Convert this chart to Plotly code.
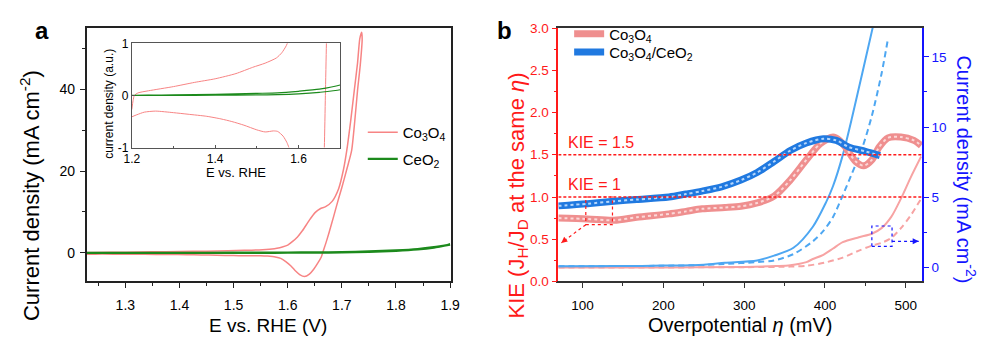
import plotly.graph_objects as go

FONT = "Liberation Sans, Arial, sans-serif"
W, H = 985, 344

# ---------------- panel a: cyclic voltammograms ----------------
# potential E vs. RHE (V) and current density (mA cm^-2)
co3o4_anodic_e = [1.200, 1.203, 1.206, 1.215, 1.240, 1.300, 1.350, 1.400, 1.450, 1.490,
                  1.520, 1.547, 1.560, 1.571, 1.580, 1.590, 1.600, 1.609, 1.618, 1.627,
                  1.640, 1.651, 1.660, 1.670, 1.682, 1.694, 1.703, 1.709, 1.716, 1.723,
                  1.729, 1.733, 1.7365]
co3o4_anodic_j = [-0.27, -0.10, 0.00, 0.05, 0.09, 0.17, 0.25, 0.32, 0.42, 0.54,
                  0.62, 0.72, 0.82, 0.96, 1.15, 1.45, 1.90, 2.80, 3.90, 5.40,
                  8.00, 9.90, 10.8, 11.3, 12.6, 15.7, 20.4, 25.0, 32.0, 39.8,
                  46.5, 52.3, 54.0]
co3o4_cathodic_e = [1.7375, 1.734, 1.729, 1.724, 1.718, 1.709, 1.700, 1.694, 1.685, 1.676,
                    1.670, 1.667, 1.6645, 1.662, 1.656, 1.648, 1.640, 1.631, 1.622, 1.615,
                    1.606, 1.597, 1.587, 1.577, 1.572, 1.563, 1.550, 1.540, 1.520, 1.500,
                    1.469, 1.440, 1.414, 1.380, 1.335, 1.300, 1.257, 1.230, 1.212, 1.200]
co3o4_cathodic_j = [52.3, 46.0, 39.8, 32.5, 25.0, 20.4, 16.0, 13.3, 9.0, 4.8,
                    2.2, 1.0, 0.0, -1.0, -2.4, -4.0, -5.2, -5.8, -5.3, -4.5,
                    -3.2, -2.2, -1.35, -1.0, -0.90, -0.78, -0.69, -0.68, -0.70, -0.66,
                    -0.57, -0.50, -0.45, -0.40, -0.36, -0.33, -0.30, -0.32, -0.37, -0.41]

ceo2_anodic_e = [1.200, 1.300, 1.400, 1.500, 1.550, 1.600, 1.650, 1.700, 1.750, 1.800,
                 1.840, 1.870, 1.900]
ceo2_anodic_j = [0.00, 0.00, 0.005, 0.01, 0.015, 0.03, 0.06, 0.11, 0.25, 0.50,
                 0.85, 1.30, 2.00]
ceo2_cathodic_e = [1.900, 1.870, 1.840, 1.800, 1.750, 1.700, 1.650, 1.600, 1.550, 1.500,
                   1.400, 1.300, 1.240, 1.200]
ceo2_cathodic_j = [2.00, 1.40, 0.95, 0.62, 0.36, 0.20, 0.12, 0.08, 0.05, 0.04,
                   0.02, 0.01, 0.005, 0.00]

# ---------------- panel b: KIE and polarisation curves ----------------
# overpotential (mV)
kie_co3o4_eta = [70, 106, 139, 167, 207, 228, 248, 276, 296, 316, 337, 357, 377, 394,
                 410, 418, 426, 438, 448, 458, 467, 478, 494, 510, 519]
kie_co3o4 = [0.75, 0.74, 0.725, 0.76, 0.80, 0.83, 0.86, 0.875, 0.89, 0.93, 1.01, 1.20, 1.44, 1.63,
             1.71, 1.67, 1.58, 1.42, 1.37, 1.44, 1.59, 1.70, 1.71, 1.67, 1.61]
kie_cc_eta = [70, 106, 139, 167, 207, 228, 248, 272, 296, 316, 337, 357, 377, 398,
              414, 430, 450, 468]
kie_cc = [0.895, 0.92, 0.95, 0.97, 1.00, 1.035, 1.07, 1.12, 1.20, 1.29, 1.42, 1.55, 1.64, 1.69,
          1.67, 1.59, 1.54, 1.49]

# current density (mA cm^-2), H2O (solid) and D2O (dashed)
j_cc_h2o_eta = [70, 150, 200, 250, 276, 316, 337, 361, 385, 401, 410, 422, 434, 446, 459]
j_cc_h2o = [0.08, 0.10, 0.13, 0.20, 0.33, 0.50, 0.84, 1.40, 2.90, 4.60, 5.80, 8.00, 10.8, 13.8, 17.06]
j_cc_d2o_eta = [70, 150, 200, 250, 276, 316, 337, 361, 385, 398, 410, 421, 432, 446, 458, 470, 478]
j_cc_d2o = [0.08, 0.10, 0.12, 0.18, 0.25, 0.38, 0.50, 0.95, 1.86, 2.60, 3.60, 5.00, 6.50, 8.50,
            10.8, 13.8, 16.3]
j_co_h2o_eta = [70, 200, 300, 340, 357, 377, 385, 398, 410, 422, 442, 458, 470, 482, 494, 506, 519]
j_co_h2o = [0.00, 0.00, 0.03, 0.10, 0.16, 0.38, 0.60, 0.90, 1.35, 1.80, 2.15, 2.40, 2.80, 3.60,
            4.90, 6.40, 7.90]
j_co_d2o_eta = [70, 200, 300, 357, 377, 400, 422, 442, 458, 470, 482, 494, 506, 519]
j_co_d2o = [0.00, 0.00, 0.02, 0.06, 0.12, 0.35, 0.70, 1.20, 1.55, 1.75, 2.10, 2.80, 3.70, 4.90]

kie_levels = [1.0, 1.5]
kie_level_labels = ["KIE = 1", "KIE = 1.5"]

# zoom boxes (eta range, value range) and their arrow targets
red_box = [104, 137, 0.672, 1.0]
red_arrow = [104, 0.672, 73.6, 0.457]
blue_box = [458, 483, 1.5, 2.95]
blue_arrow = [483, 1.86, 516, 1.86]

PINK_A = "#f78484"
GREEN = "#1c8a1c"
PINK_B = "#ef8f8f"
PINK_B_IN = "#fbd8d8"
BLUE_B = "#2079e0"
BLUE_B_IN = "#b5d6fb"
PINK_J = "#f7a3a3"
BLUE_J = "#4ea7f2"
RED = "#ff1a1a"
BLUE_AX = "#1414ff"


def fx(p):
    return p / W


def fy(p):
    return 1 - p / H


fig = go.Figure()

co_e = co3o4_anodic_e + co3o4_cathodic_e
co_j = co3o4_anodic_j + co3o4_cathodic_j
ce_e = ceo2_anodic_e + ceo2_cathodic_e
ce_j = ceo2_anodic_j + ceo2_cathodic_j

# main CV panel
fig.add_trace(go.Scatter(x=co_e, y=co_j, xaxis="x", yaxis="y", mode="lines",
                         line=dict(color=PINK_A, width=1.5, shape="spline", smoothing=0.6),
                         name="Co<sub>3</sub>O<sub>4</sub>", legend="legend", legendgroup="a1"))
fig.add_trace(go.Scatter(x=ce_e, y=ce_j, xaxis="x", yaxis="y", mode="lines",
                         line=dict(color=GREEN, width=2.2, shape="spline", smoothing=0.6),
                         name="CeO<sub>2</sub>", legend="legend", legendgroup="a2"))
# inset (same sweeps, magnified)
fig.add_trace(go.Scatter(x=co_e, y=co_j, xaxis="x2", yaxis="y2", mode="lines",
                         line=dict(color=PINK_A, width=1, shape="spline", smoothing=0.6),
                         showlegend=False))
fig.add_trace(go.Scatter(x=ce_e, y=ce_j, xaxis="x2", yaxis="y2", mode="lines",
                         line=dict(color=GREEN, width=1.2, shape="spline", smoothing=0.6),
                         showlegend=False))

# polarisation curves (right axis)
for xs, ys, col, dash in [(j_co_h2o_eta, j_co_h2o, PINK_J, "solid"),
                          (j_co_d2o_eta, j_co_d2o, PINK_J, "6px,4px"),
                          (j_cc_h2o_eta, j_cc_h2o, BLUE_J, "solid"),
                          (j_cc_d2o_eta, j_cc_d2o, BLUE_J, "6px,4px")]:
    fig.add_trace(go.Scatter(x=xs, y=ys, xaxis="x3", yaxis="y4", mode="lines",
                             line=dict(color=col, width=2, dash=dash, shape="spline", smoothing=0.8),
                             showlegend=False))

# KIE curves (left axis); each sample gets its own one-row legend
for xs, ys, col, col_in, nm, lg in [
        (kie_co3o4_eta, kie_co3o4, PINK_B, PINK_B_IN, "Co<sub>3</sub>O<sub>4</sub>", "legend2"),
        (kie_cc_eta, kie_cc, BLUE_B, BLUE_B_IN, "Co<sub>3</sub>O<sub>4</sub>/CeO<sub>2</sub>", "legend3")]:
    fig.add_trace(go.Scatter(x=xs, y=ys, xaxis="x3", yaxis="y3", mode="lines",
                             line=dict(color=col, width=7, shape="spline", smoothing=0.8),
                             name=nm, legend=lg))
    fig.add_trace(go.Scatter(x=xs, y=ys, xaxis="x3", yaxis="y3", mode="lines",
                             line=dict(color=col_in, width=2, dash="dot", shape="spline", smoothing=0.8),
                             showlegend=False))

shapes = []
for lv in kie_levels:
    shapes.append(dict(type="line", xref="x3", yref="y3", x0=70, x1=520, y0=lv, y1=lv,
                       line=dict(color=RED, width=1.5, dash="3px,2px")))
shapes.append(dict(type="rect", xref="x3", yref="y3", x0=red_box[0], x1=red_box[1],
                   y0=red_box[2], y1=red_box[3], line=dict(color=RED, width=1.2, dash="dot")))
shapes.append(dict(type="line", xref="x3", yref="y3", x0=red_arrow[0], y0=red_arrow[1],
                   x1=red_arrow[2], y1=red_arrow[3], line=dict(color=RED, width=1.2, dash="dot")))
shapes.append(dict(type="rect", xref="x3", yref="y4", x0=blue_box[0], x1=blue_box[1],
                   y0=blue_box[2], y1=blue_box[3], line=dict(color=BLUE_AX, width=1.2, dash="dot")))
shapes.append(dict(type="line", xref="x3", yref="y4", x0=blue_arrow[0], y0=blue_arrow[1],
                   x1=blue_arrow[2], y1=blue_arrow[3], line=dict(color=BLUE_AX, width=1.2, dash="dot")))

ann = []
for lv, txt in zip(kie_levels, kie_level_labels):
    ann.append(dict(x=80, y=lv + 0.15, xref="x3", yref="y3", text=txt, showarrow=False,
                    xanchor="left", yanchor="middle", font=dict(color=RED, size=16)))
# arrow heads
ann.append(dict(x=red_arrow[2], y=red_arrow[3], xref="x3", yref="y3", text="", showarrow=True,
                arrowhead=2, arrowsize=1, arrowwidth=1.2, arrowcolor=RED, ax=6, ay=-4.6, standoff=0))
ann.append(dict(x=blue_arrow[2], y=blue_arrow[3], xref="x3", yref="y4", text="", showarrow=True,
                arrowhead=2, arrowsize=1, arrowwidth=1.2, arrowcolor=BLUE_AX, ax=-7, ay=0, standoff=0))


def label(px, py, text, size, color="black", angle=0, bold=False):
    ann.append(dict(x=fx(px), y=fy(py), xref="paper", yref="paper", textangle=angle,
                    showarrow=False, xanchor="center", yanchor="middle",
                    text=f"<b>{text}</b>" if bold else text, font=dict(size=size, color=color)))


# panel letters
label(35, 25, "a", 24, bold=True)
label(505, 25, "b", 24, bold=True)
# axis titles
label(23, 197, "Current density (mA cm<sup>-2</sup>)", 22, angle=-90)
label(265, 333, "E vs. RHE (V)", 19)
label(102, 101, "current density (a.u.)", 12, angle=-90)
label(232, 173, "E vs. RHE", 13)
label(519, 197, "KIE (J<sub>H</sub>/J<sub>D</sub> at the same <i>η</i>)", 22, color=RED, angle=-90)
label(975, 170, "Current density (mA cm<sup>-2</sup>)", 20, color=BLUE_AX, angle=90)
label(745, 333, "Overpotential <i>η</i> (mV)", 20)

frame = dict(showline=True, linewidth=1.5, linecolor="#222", mirror=True, showgrid=False,
             zeroline=False, ticks="outside", ticklen=5, tickwidth=1.3, tickcolor="#222")

legend_style = dict(xanchor="left", yanchor="top", bgcolor="rgba(0,0,0,0)",
                    font=dict(size=15), itemclick=False)

fig.update_layout(
    width=W, height=H, margin=dict(l=0, r=0, t=0, b=0),
    paper_bgcolor="white", plot_bgcolor="white",
    font=dict(family=FONT, color="black"),
    hovermode=False,
    shapes=shapes, annotations=ann,
    xaxis=dict(domain=[fx(80), fx(451)], range=[1.2285, 1.902], anchor="y",
               tickmode="linear", tick0=1.3, dtick=0.1, tickformat=".1f",
               minor=dict(ticks="outside", ticklen=3, tick0=1.25, dtick=0.1, tickcolor="#222"),
               tickfont=dict(size=14), ticklabelstandoff=5, **frame),
    yaxis=dict(domain=[fy(287), fy(22)], range=[-7, 55], anchor="x",
               tickmode="linear", tick0=0, dtick=20,
               minor=dict(ticks="outside", ticklen=3, tick0=10, dtick=20, tickcolor="#222"),
               tickfont=dict(size=14), ticklabelstandoff=2, **frame),
    xaxis2=dict(domain=[fx(126), fx(338)], range=[1.2, 1.7], anchor="y2",
                tickvals=[1.2, 1.4, 1.6], ticktext=["1.2", "1.4", "1.6"],
                showline=True, linewidth=1, linecolor="#555", mirror=True, showgrid=False,
                zeroline=False, ticks="inside", ticklen=3, tickcolor="#555",
                minor=dict(ticks="inside", ticklen=2, tickvals=[1.3, 1.5], tickcolor="#555"),
                tickfont=dict(size=12)),
    yaxis2=dict(domain=[fy(147), fy(38)], range=[-1, 1], anchor="x2",
                tickvals=[-1, 0, 1], ticktext=["-1", "0", "1"],
                showline=True, linewidth=1, linecolor="#555", mirror=True, showgrid=False,
                zeroline=False, ticks="inside", ticklen=3, tickcolor="#555",
                tickfont=dict(size=12)),
    xaxis3=dict(domain=[fx(560), fx(930)], range=[70, 520], anchor="y4",
                tickmode="linear", tick0=0, dtick=100,
                minor=dict(ticks="outside", ticklen=3, tick0=50, dtick=100, tickcolor="#333"),
                showline=True, linewidth=1.5, linecolor="#333", mirror=True, showgrid=False,
                zeroline=False, ticks="outside", ticklen=5, tickwidth=1.3, tickcolor="#333",
                tickfont=dict(size=13.5), ticklabelstandoff=6),
    yaxis4=dict(domain=[fy(287), fy(22)], range=[-1.0, 17.05], anchor="x3", side="right",
                tickmode="linear", tick0=0, dtick=5,
                minor=dict(ticks="outside", ticklen=3, tick0=2.5, dtick=5, tickcolor=BLUE_AX),
                showline=True, linewidth=1.5, linecolor=BLUE_AX, showgrid=False, zeroline=False,
                ticks="outside", ticklen=5, tickwidth=1.3, tickcolor=BLUE_AX,
                tickfont=dict(size=13.5, color=BLUE_AX)),
    yaxis3=dict(range=[0, 3], anchor="x3", overlaying="y4", side="left",
                tickmode="linear", tick0=0, dtick=0.5, tickformat=".1f",
                minor=dict(ticks="outside", ticklen=3, tick0=0.25, dtick=0.5, tickcolor=RED),
                showline=True, linewidth=1.5, linecolor=RED, showgrid=False, zeroline=False,
                ticks="outside", ticklen=5, tickwidth=1.3, tickcolor=RED,
                tickfont=dict(size=13.5, color=RED)),
    legend=dict(x=fx(361), y=fy(114), tracegroupgap=4, **legend_style),
    legend2=dict(x=fx(571), y=fy(11), **legend_style),
    legend3=dict(x=fx(571), y=fy(30), **legend_style),
)

fig.write_html("out.html", config={"displayModeBar": False})
